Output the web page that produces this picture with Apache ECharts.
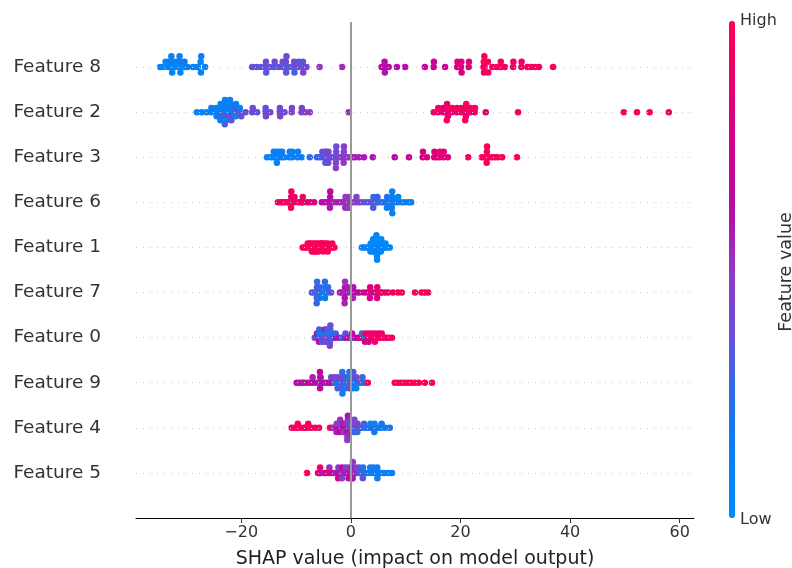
<!DOCTYPE html>
<html>
<head>
<meta charset="utf-8">
<script src="https://cdn.jsdelivr.net/npm/echarts@6/dist/echarts.min.js"></script>
<style>
  html, body { margin: 0; padding: 0; background: #fff; }
  #main { width: 792px; height: 568px; }
</style>
</head>
<body>
<div id="main"></div>
<script>
// [shap value, feature value (0 = low, 1 = high)] for every sample
const feature8 = [
  [-34.8,.08],[-34.2,.1],[-33.8,.06],[-33.3,.1],[-33.2,.12],
  [-32.7,.07],[-32.65,.1],[-32.6,.09],[-32.75,.11],[-32.0,.06],[-31.95,.1],
  [-31.2,.08],[-31.15,.12],[-31.1,.09],[-31.25,.1],[-30.4,.1],[-30.35,.13],
  [-29.8,.1],[-28.8,.08],[-28.0,.12],[-27.95,.1],[-27.4,.09],[-27.35,.11],[-27.3,.1],[-26.6,.11],
  [-18.0,.35],[-17.2,.38],[-16.4,.33],[-15.6,.36],[-15.5,.4],[-15.45,.34],
  [-14.8,.37],[-14.0,.32],[-13.9,.39],[-13.2,.36],[-12.5,.35],[-12.45,.41],
  [-11.9,.33],[-11.85,.38],[-11.8,.36],[-11.75,.4],[-11.1,.34],[-10.4,.37],[-10.35,.42],[-10.3,.3],
  [-9.6,.38],[-9.55,.36],[-8.8,.4],[-8.75,.35],[-8.7,.43],[-8.1,.41],
  [-5.7,.5],[-1.6,.52],
  [5.6,.64],[6.1,.62],[6.15,.66],[6.2,.6],[6.9,.65],[8.4,.62],[9.9,.64],
  [13.5,.7],[15.1,.72],[15.15,.74],[17.2,.72],
  [19.4,.8],[19.45,.82],[20.1,.78],[20.15,.84],[20.2,.8],[21.5,.84],[21.55,.82],
  [24.2,.94],[24.25,.96],[24.3,.93],[24.35,.97],[24.4,.92],
  [25.0,.95],[25.05,.97],[25.8,.93],[26.6,.95],[27.3,.94],[27.35,.97],[28.1,.92],
  [29.6,.9],[29.65,.94],[31.1,.92],[31.15,.9],[32.2,.95],[32.9,.96],[33.6,.93],[34.3,.95],
  [36.9,.96]
];
const feature2 = [
  [-28.1,.08],[-27.2,.1],[-26.3,.09],[-25.5,.1],[-25.45,.12],
  [-24.6,.08],[-24.55,.1],[-24.5,.14],
  [-23.7,.09],[-23.65,.11],[-23.6,.3],[-23.75,.1],[-23.8,.12],
  [-22.9,.08],[-22.85,.1],[-22.8,.35],[-22.75,.09],[-22.7,.11],[-22.95,.1],[-23.0,.32],
  [-22.0,.08],[-21.95,.12],[-21.9,.38],[-21.85,.1],[-21.8,.34],[-22.05,.09],
  [-21.1,.11],[-21.05,.36],[-21.0,.1],[-20.95,.12],[-20.3,.36],[-20.25,.1],
  [-20.0,.36],[-19.2,.38],[-18.0,.37],[-17.9,.4],[-17.1,.35],
  [-15.6,.4],[-15.55,.37],[-15.5,.42],[-14.7,.39],
  [-13.0,.41],[-12.95,.38],[-12.9,.43],[-12.1,.4],
  [-10.8,.44],[-10.75,.42],[-9.0,.45],[-8.95,.43],[-8.3,.46],[-7.5,.47],
  [-0.4,.52],
  [15.1,.95],[15.9,.86],[15.95,.97],[16.8,.9],[16.85,.82],
  [17.6,.95],[17.65,.98],[17.7,.85],[17.55,.92],[17.5,.96],
  [18.4,.9],[18.45,.95],[19.3,.86],[19.35,.98],[20.1,.95],[20.15,.9],
  [20.9,.97],[20.95,.92],[21.0,.84],[21.05,.96],[20.85,.95],
  [21.8,.9],[21.85,.98],[22.6,.92],[22.65,.95],[24.6,.85],
  [30.5,.99],[49.8,.99],[52.2,.99],[54.5,.99],[58.0,.99]
];
const feature3 = [
  [-15.3,.1],[-14.6,.12],[-14.1,.08],[-14.05,.15],
  [-13.6,.1],[-13.55,.12],[-13.5,.09],[-13.1,.14],[-13.05,.1],[-12.6,.12],[-12.55,.16],[-12.1,.1],
  [-11.2,.13],[-11.15,.15],[-10.7,.12],[-10.65,.1],[-9.7,.14],[-9.65,.11],[-9.0,.12],
  [-7.5,.25],
  [-6.2,.3],[-5.7,.28],[-5.25,.32],[-5.2,.35],
  [-4.6,.3],[-4.58,.38],[-4.56,.33],[-4.62,.4],[-4.64,.3],[-4.54,.36],
  [-4.1,.34],[-4.08,.4],[-4.12,.37],[-3.6,.42],[-3.2,.35],
  [-2.7,.4],[-2.68,.38],[-2.72,.44],[-2.66,.4],[-2.74,.46],
  [-2.2,.42],[-1.8,.45],[-1.3,.48],[-1.28,.44],[-1.32,.5],[-1.26,.46],
  [-0.8,.47],[-0.4,.5],
  [0.3,.54],[0.8,.57],[1.5,.56],[2.4,.58],
  [4.0,.6],[8.0,.68],[10.6,.72],
  [13.1,.8],[13.15,.78],[13.9,.82],[15.2,.84],[15.25,.8],[15.7,.86],[16.2,.82],[16.25,.88],
  [16.9,.84],[16.95,.86],[17.7,.83],
  [21.4,.93],
  [23.9,.95],[24.4,.97],[24.8,.95],[24.82,.98],[24.78,.95],[24.84,.97],[25.3,.95],[25.8,.98],
  [26.3,.95],[26.8,.97],[27.6,.95],
  [30.3,.99]
];
const feature6 = [
  [-13.3,.95],[-12.8,.93],[-12.4,.97],[-12.0,.92],[-11.5,.95],[-11.45,.93],
  [-10.9,.98],[-10.88,.92],[-10.92,.96],[-10.86,.93],[-10.3,.95],[-10.28,.92],
  [-9.6,.93],[-9.2,.9],[-8.8,.88],[-8.78,.92],[-8.82,.9],[-8.0,.86],[-7.4,.84],[-6.7,.82],
  [-5.3,.64],[-4.8,.62],[-4.3,.66],[-3.8,.6],[-3.78,.62],[-3.82,.58],[-3.76,.64],
  [-3.2,.57],[-2.6,.56],[-2.0,.58],[-1.5,.54],[-1.0,.52],[-0.98,.5],[-1.02,.54],
  [-0.4,.52],[-0.38,.48],[-0.42,.49],[0.4,.46],[1.0,.47],[1.02,.44],[1.6,.45],
  [2.2,.38],[2.9,.36],[3.5,.34],[4.1,.33],[4.12,.3],[4.08,.32],
  [4.8,.28],[4.82,.3],[4.78,.25],[4.84,.27],[5.5,.22],[6.0,.25],
  [6.6,.18],[6.62,.2],[6.58,.15],
  [7.5,.12],[7.52,.1],[7.48,.18],[7.54,.12],[7.46,.14],[7.56,.1],
  [8.1,.1],[8.6,.12],[8.62,.1],[9.3,.12],[9.9,.1],[10.5,.12],[11.0,.1]
];
const feature1 = [
  [-8.8,.98],[-8.5,.96],[-8.2,.97],[-7.9,.95],[-7.88,.98],[-7.5,.96],[-7.48,.99],
  [-7.1,.97],[-7.08,.95],[-7.12,.96],[-6.7,.98],[-6.68,.96],[-6.72,.97],
  [-6.3,.95],[-6.28,.98],[-6.32,.97],[-5.9,.96],[-5.88,.99],[-5.92,.97],
  [-5.4,.98],[-5.38,.96],[-5.42,.95],[-5.36,.97],[-5.0,.97],[-4.98,.96],[-5.02,.98],
  [-4.6,.96],[-4.58,.99],[-4.62,.97],[-4.2,.95],[-4.18,.98],[-4.22,.96],
  [-3.8,.97],[-3.78,.96],[-3.4,.98],[-3.38,.95],[-3.0,.97],
  [2.0,.04],[2.4,.06],[2.8,.05],[3.2,.03],[3.22,.06],[3.6,.05],[3.62,.04],[3.58,.07],
  [4.0,.05],[4.02,.03],[4.04,.06],[3.98,.04],[4.06,.05],
  [4.4,.04],[4.42,.06],[4.38,.05],[4.44,.03],
  [4.7,.05],[4.72,.04],[4.74,.06],[4.68,.03],[4.76,.05],[4.66,.04],[4.78,.06],
  [5.1,.05],[5.12,.04],[5.08,.06],[5.14,.03],[5.06,.05],
  [5.5,.04],[5.52,.06],[5.48,.05],[5.54,.04],[5.9,.05],[5.92,.03],[5.88,.06],
  [6.3,.04],[6.32,.05],[6.7,.05],[7.1,.04]
];
const feature7 = [
  [-7.1,.3],[-6.7,.32],[-6.2,.28],[-6.18,.3],[-6.22,.34],[-6.16,.26],[-6.24,.3],[-6.14,.33],
  [-5.7,.2],[-5.68,.3],[-5.72,.15],
  [-4.7,.12],[-4.68,.3],[-4.72,.1],[-4.66,.15],[-4.74,.28],[-4.64,.12],
  [-4.2,.3],[-4.18,.25],[-3.6,.35],
  [-2.0,.57],[-1.6,.6],[-1.1,.54],[-1.08,.58],[-1.12,.62],[-1.06,.52],[-1.14,.56],
  [-0.6,.6],[-0.58,.57],[0.0,.54],[0.4,.58],[0.42,.62],[0.38,.56],[1.0,.66],[1.5,.64],
  [2.3,.76],[2.9,.8],[3.5,.78],[3.52,.84],[3.48,.76],
  [4.2,.86],[4.8,.82],[4.82,.88],[4.78,.8],[5.5,.86],[5.52,.9],[6.2,.88],[6.8,.92],
  [7.7,.95],[8.6,.96],[9.3,.98],
  [11.7,.98],[12.9,.98],[13.5,.98],[14.1,.98]
];
const feature0 = [
  [-6.6,.35],[-6.2,.4],[-6.18,.62],[-5.8,.35],[-5.78,.1],[-5.82,.66],[-5.76,.3],
  [-5.3,.38],[-5.28,.15],[-5.32,.35],[-4.8,.4],[-4.78,.1],[-4.82,.35],[-4.76,.62],
  [-4.3,.38],[-4.28,.2],[-4.32,.35],[-4.26,.42],[-4.34,.3],
  [-3.8,.4],[-3.78,.1],[-3.82,.36],[-3.76,.3],[-3.84,.45],[-3.74,.38],
  [-3.3,.35],[-3.28,.15],[-2.8,.64],[-2.78,.3],
  [-2.2,.62],[-1.6,.6],[-1.58,.15],[-1.0,.62],[-0.98,.35],
  [-0.5,.64],[-0.2,.58],[0.2,.1],[0.22,.64],[0.7,.62],[1.2,.66],[1.5,.74],
  [2.0,.9],[2.02,.15],[2.6,.1],[2.62,.95],[2.58,.8],
  [3.2,.95],[3.22,.85],[3.18,.96],[3.24,.76],[3.8,.93],[3.82,.98],
  [4.4,.9],[4.42,.96],[4.38,.94],[5.0,.93],[5.02,.85],
  [5.6,.95],[5.62,.9],[5.58,.96],[6.3,.93],[6.32,.95],[6.9,.9],[7.5,.95]
];
const feature9 = [
  [-9.9,.64],[-9.4,.62],[-8.8,.67],[-8.78,.6],[-8.2,.64],[-7.6,.62],
  [-7.0,.67],[-6.98,.57],[-6.4,.62],
  [-5.6,.7],[-5.58,.6],[-5.62,.64],[-5.56,.57],[-5.64,.72],[-5.54,.62],
  [-5.0,.62],[-4.5,.57],[-4.0,.64],[-3.6,.52],[-3.58,.35],[-3.62,.6],
  [-3.0,.3],[-2.98,.45],[-2.4,.2],[-2.38,.4],[-2.42,.25],
  [-1.6,.35],[-1.58,.15],[-1.62,.4],[-1.56,.2],[-1.64,.38],[-1.54,.12],[-1.66,.45],
  [-1.0,.15],[-0.98,.3],[-1.02,.1],
  [-0.3,.35],[-0.28,.12],[-0.32,.4],[-0.26,.18],
  [0.4,.2],[0.42,.38],[0.38,.1],[0.44,.3],
  [1.0,.15],[1.02,.4],[0.98,.12],[1.6,.35],[2.1,.2],[2.12,.3],[2.6,.25],
  [3.1,.98],
  [8.0,.98],[8.6,.98],[9.2,.98],[9.8,.98],[10.4,.98],[11.0,.98],[11.7,.98],[12.4,.98],[13.5,.98],
  [14.8,.98]
];
const feature4 = [
  [-10.8,.95],[-10.3,.96],[-9.7,.93],[-9.68,.98],[-9.1,.95],[-8.4,.96],[-8.38,.93],
  [-7.8,.95],[-7.78,.97],[-7.2,.95],[-6.5,.96],[-5.8,.98],
  [-3.8,.98],
  [-3.2,.62],[-3.18,.52],[-2.6,.64],[-2.58,.47],[-2.62,.57],
  [-2.0,.6],[-1.98,.42],[-2.02,.67],[-1.96,.52],
  [-1.4,.54],[-1.38,.44],[-1.42,.62],[-1.36,.47],[-1.44,.57],
  [-0.6,.57],[-0.58,.44],[-0.62,.67],[-0.56,.42],[-0.64,.52],[-0.54,.64],[-0.66,.47],
  [0.0,.45],[0.02,.35],[-0.02,.55],[0.04,.4],[-0.04,.5],
  [0.6,.38],[0.62,.45],[0.58,.3],[0.64,.42],
  [1.2,.3],[1.22,.4],[1.18,.25],[1.8,.25],[1.82,.35],
  [2.4,.2],[2.42,.3],[3.0,.22],[3.6,.15],[3.62,.25],[3.58,.12],
  [4.3,.2],[4.32,.1],[4.28,.18],[5.0,.15],[5.6,.12],[5.62,.2],[6.3,.15],[7.1,.2]
];
const feature5 = [
  [-8.0,.98],
  [-6.0,.9],[-5.6,.86],[-5.58,.68],[-5.62,.94],[-5.0,.58],[-4.5,.8],
  [-3.9,.62],[-3.88,.9],[-3.92,.52],[-3.3,.75],[-2.8,.57],
  [-2.3,.62],[-2.28,.47],[-2.32,.8],[-1.6,.52],[-1.58,.68],[-1.62,.42],
  [-1.0,.57],[-0.98,.47],[-0.4,.62],[-0.38,.44],[-0.42,.74],
  [0.3,.45],[0.32,.62],[0.28,.5],[0.34,.4],[0.26,.68],[0.36,.48],[0.24,.57],
  [0.9,.42],[0.92,.55],[0.88,.38],[1.5,.35],[1.52,.42],
  [2.2,.25],[2.22,.2],[2.18,.35],[2.9,.2],[3.5,.15],[3.52,.22],
  [4.1,.15],[4.12,.1],[4.8,.12],[4.82,.18],[4.78,.1],[4.84,.15],
  [5.4,.12],[5.42,.1],[6.1,.15],[6.8,.1],[7.5,.12]
];

// bottom row first
const featureNames = ['Feature 5','Feature 4','Feature 9','Feature 0','Feature 7',
                      'Feature 1','Feature 6','Feature 3','Feature 2','Feature 8'];
const featureRows = [feature5, feature4, feature9, feature0, feature7,
                     feature1, feature6, feature3, feature2, feature8];
const xTicks = [-20, 0, 20, 40, 60];

// same stacking as the shap beeswarm: 100 bins, alternate up / down inside a bin
function swarm(xs, rowHeight) {
  const lo = Math.min(...xs), hi = Math.max(...xs);
  const quant = xs.map(x => Math.round(100 * (x - lo) / (hi - lo + 1e-8)));
  const inds = xs.map((_, i) => i).sort((a, b) => quant[a] - quant[b] || a - b);
  const ys = new Array(xs.length).fill(0);
  let layer = 0, last = -1;
  inds.forEach(i => {
    if (quant[i] !== last) layer = 0;
    ys[i] = Math.ceil(layer / 2) * ((layer % 2) * 2 - 1);
    layer++;
    last = quant[i];
  });
  const s = 0.9 * rowHeight / Math.max(...ys.map(y => y + 1));
  return ys.map(y => y * s);
}

const points = [];
featureRows.forEach((pts, r) => {
  const off = swarm(pts.map(p => p[0]), 0.4);
  pts.forEach((p, i) => points.push([p[0], r + off[i], p[1]]));
});

const redBlue = ['#008bfb','#0a7ef3','#2a6ce8','#6a4ed6','#9636c2','#b40ca8','#d00090','#e80072','#ff0051'];
const font = 'DejaVu Sans';

let chart = echarts.init(document.getElementById('main'));
let option = {
  animation: false,
  backgroundColor: '#fff',
  grid: { left: 136, right: 98, top: 22, bottom: 50, containLabel: false, outerBoundsMode: 'none' },
  xAxis: {
    type: 'value',
    min: -39.2,
    max: 62.6,
    name: 'SHAP value (impact on model output)',
    nameLocation: 'middle',
    nameGap: 32,
    nameTextStyle: { fontFamily: font, fontSize: 19, color: '#222' },
    axisLine: { onZero: false, lineStyle: { color: '#000', width: 1 } },
    axisTick: { customValues: xTicks, length: 5, lineStyle: { color: '#333' } },
    axisLabel: {
      customValues: xTicks, fontFamily: font, fontSize: 16, color: '#333', margin: 7,
      formatter: v => (v < 0 ? '\u2212' + (-v) : '' + v)
    },
    splitLine: { show: false }
  },
  yAxis: {
    type: 'value',
    min: -1,
    max: 10,
    axisLine: { show: false },
    axisTick: { show: false },
    splitLine: { show: false },
    axisLabel: {
      customValues: featureNames.map((_, i) => i),
      formatter: v => featureNames[v] || '',
      fontFamily: font, fontSize: 18.5, color: '#333', margin: 35
    }
  },
  visualMap: {
    type: 'continuous',
    seriesIndex: 1,
    dimension: 2,
    min: 0,
    max: 1,
    calculable: false,
    orient: 'vertical',
    left: 729,
    top: 21,
    padding: 0,
    itemWidth: 6,
    itemHeight: 497,
    text: null,
    inRange: { color: redBlue }
  },
  graphic: [
    { type: 'text', left: 740, top: 13, style: { text: 'High', font: '16px "DejaVu Sans"', fill: '#333' } },
    { type: 'text', left: 740, top: 512, style: { text: 'Low', font: '16px "DejaVu Sans"', fill: '#333' } },
    {
      type: 'text', x: 786, y: 272, rotation: Math.PI / 2,
      style: { text: 'Feature value', font: '17.5px "DejaVu Sans"', fill: '#333',
               textAlign: 'center', textVerticalAlign: 'middle' }
    }
  ],
  series: [
    {
      type: 'scatter',
      data: [],
      silent: true,
      z: 1,
      markLine: {
        silent: true,
        symbol: 'none',
        label: { show: false },
        data: [
          { xAxis: 0, lineStyle: { color: '#999', width: 2, type: 'solid' } }
        ].concat(featureNames.map((_, i) => ({
          yAxis: i, lineStyle: { color: '#ccc', width: 1, type: [1, 6] }
        })))
      }
    },
    {
      type: 'scatter',
      data: points,
      symbolSize: 6.5,
      z: 3,
      itemStyle: { opacity: 1 }
    }
  ]
};
option && chart.setOption(option);
</script>
</body>
</html>
